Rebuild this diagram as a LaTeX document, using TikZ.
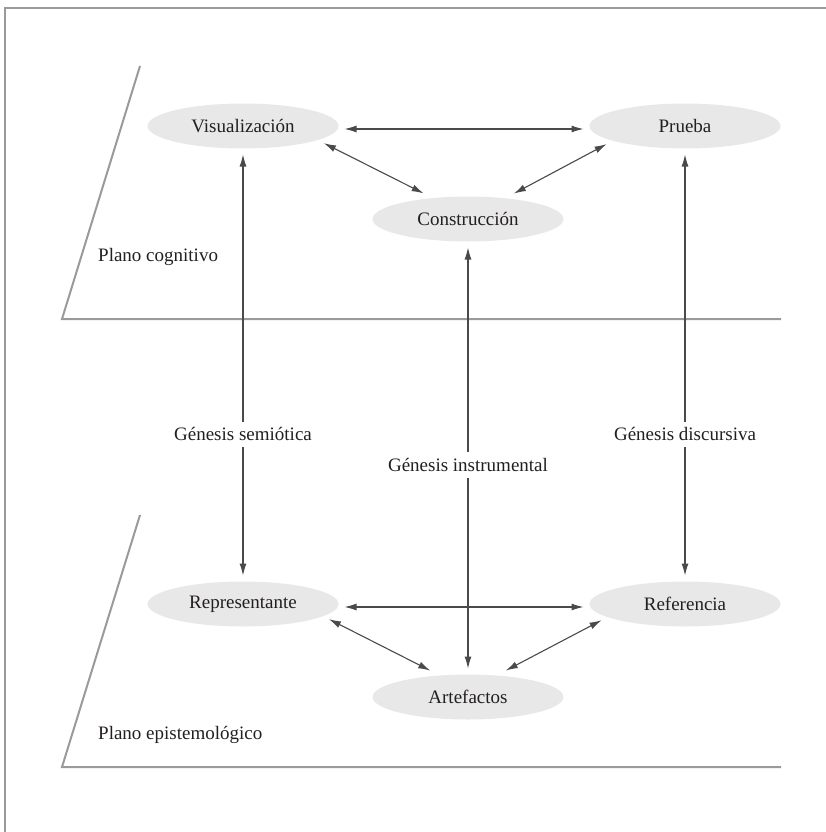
\documentclass[tikz,border=0pt]{standalone}
\usepackage{fontspec}
\setmainfont{Liberation Serif}
\usetikzlibrary{shapes.geometric,arrows.meta}
\definecolor{ellfill}{HTML}{E8E8E8}
\definecolor{arr}{HTML}{4A4A4A}
\definecolor{planec}{HTML}{9A9A9A}
\definecolor{txt}{HTML}{231F20}
\begin{document}
\begin{tikzpicture}[x=1pt,y=-1pt,
  concept/.style={ellipse, fill=ellfill, minimum width=191pt, minimum height=45pt,
    inner sep=0pt, outer sep=6pt, font=\rmfamily\fontsize{19}{22}\selectfont, text=txt},
  link/.style={draw=arr, line width=1.1pt,
    {Latex[length=12pt,width=7pt]}-{Latex[length=12pt,width=7pt]}},
  plane/.style={draw=planec, line width=2pt, line join=miter},
  lbl/.style={font=\rmfamily\fontsize{19}{22}\selectfont, text=txt, fill=white, inner sep=6pt},
  plabel/.style={font=\rmfamily\fontsize{19}{22}\selectfont, text=txt, anchor=base west, inner sep=0pt}]
\clip (0,0) rectangle (826,832);
\useasboundingbox (0,0) rectangle (826,832);
% frame
\draw[draw=planec, line width=2.2pt] (5,8) rectangle (900,900);
% planes
\coordinate (p1t) at (140,66);
\coordinate (p1b) at (62,319);
\coordinate (p1r) at (781,319);
\coordinate (p2t) at (140,515);
\coordinate (p2b) at (62,767);
\coordinate (p2r) at (781,767);
\draw[plane] (p1t) -- (p1b) -- (p1r);
\draw[plane] (p2t) -- (p2b) -- (p2r);
\node[plabel] (pc) at (98,261) {Plano cognitivo};
\node[plabel] (pe) at (98,739) {Plano epistemológico};
% concepts
\node[concept] (vis) at (243,126) {Visualización};
\node[concept] (pru) at (685,126) {Prueba};
\node[concept] (con) at (468,219) {Construcción};
\node[concept] (rep) at (243,604) {Representante};
\node[concept] (ref) at (685,604) {Referencia};
\node[concept] (art) at (468,697) {Artefactos};
% links
\draw[link] ([yshift=-3pt]vis.east) -- ([yshift=-3pt]pru.west);
\draw[link] (vis.-12.8) -- (con.150.6);
\draw[link] (con.29.4) -- (pru.-167.2);
\draw[link] ([yshift=-3pt]rep.east) -- ([yshift=-3pt]ref.west);
\draw[link] (rep.-10.9) -- (art.145);
\draw[link] (art.35) -- (ref.-169.1);
\draw[link] (vis.south) -- node[lbl, pos=0.665] (gs) {Génesis semiótica} (rep.north);
\draw[link] (con.south) -- node[lbl, pos=0.517] (gi) {Génesis instrumental} (art.north);
\draw[link] (pru.south) -- node[lbl, pos=0.665] (gd) {Génesis discursiva} (ref.north);
\end{tikzpicture}
\end{document}
